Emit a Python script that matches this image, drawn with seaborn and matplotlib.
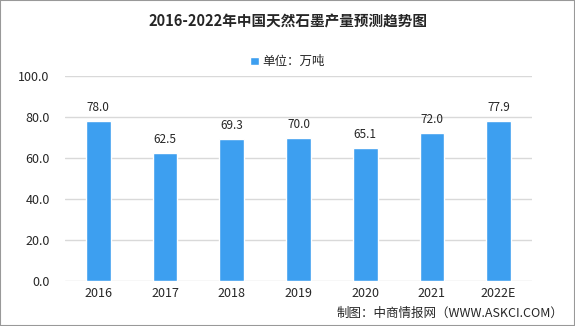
import matplotlib
matplotlib.use("Agg")
import matplotlib.pyplot as plt
import seaborn as sns
import pandas as pd

years = ["2016", "2017", "2018", "2019", "2020", "2021", "2022E"]
values = [78.0, 62.5, 69.3, 70.0, 65.1, 72.0, 77.9]
yticks = [0, 20, 40, 60, 80, 100]
title = "2016-2022年中国天然石墨产量预测趋势图"
legend_label = "单位：万吨"
source = "制图：中商情报网（WWW.ASKCI.COM）"

sns.set_theme(style="white")
plt.rcParams['font.family'] = ['Noto Sans CJK SC', 'DejaVu Sans']

df = pd.DataFrame({"year": years, "value": values})
bar_color = "#3d9ff0"

fig = plt.figure(figsize=(5.75, 3.26), dpi=100)
ax = fig.add_axes([65/575, 1-281/326, (532-65)/575, 205/326])
sns.barplot(data=df, x="year", y="value", color=bar_color, width=0.37,
            saturation=1, ax=ax, label=legend_label, zorder=3)

ax.set_ylim(0, 100)
ax.set_yticks(yticks)
ax.set_yticklabels([f"{v:.1f}" for v in yticks], fontsize=9)
ax.tick_params(axis='x', labelsize=9, length=0, pad=4)
ax.tick_params(axis='y', length=0, pad=11)
ax.grid(axis='y', color="#d9d9d9", linewidth=1, zorder=0)
for s in ax.spines.values():
    s.set_visible(False)
ax.set_xlabel("")
ax.set_ylabel("")

for c in ax.containers:
    ax.bar_label(c, labels=[f"{v:.1f}" for v in values], padding=5, fontsize=8.5)

leg = ax.legend(loc="upper center", bbox_to_anchor=(0.5, (326-44)/326), bbox_transform=fig.transFigure,
                frameon=False, fontsize=9, handlelength=0.7, handleheight=0.7, handletextpad=0.3)

fig.text(0.5, 1-22/326, title, ha="center", va="center", fontsize=10.5, fontweight="bold")
fig.text(1-12/575, 1-313/326, source, ha="right", va="center", fontsize=9)

border = plt.Rectangle((0, 0), 1, 1, transform=fig.transFigure, fill=False,
                       edgecolor="#999999", linewidth=1.5)
fig.patches.append(border)

fig.savefig("out.png", dpi=100)
